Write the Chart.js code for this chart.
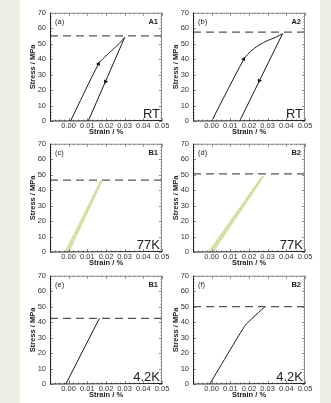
<!DOCTYPE html>
<html>
<head>
<meta charset="utf-8">
<script src="https://cdn.jsdelivr.net/npm/chart.js@4.4.1/dist/chart.umd.min.js"></script>
<style>
    html, body { margin: 0; padding: 0; background: #edf0e3; }
    #sheet { position: absolute; left: 20px; top: 0; width: 300px; height: 403px; background: #fff; }
    .panel { position: absolute; }
</style>
</head>
<body>
<div id="sheet"></div>
<script>
// tick labels
var strainTicks = [0, 0.01, 0.02, 0.03, 0.04, 0.05];
var stressTicks = [0, 10, 20, 30, 40, 50, 60, 70];

// panel texts
var panelLetters = ["(a)", "(b)", "(c)", "(d)", "(e)", "(f)"];
var sampleNames = ["A1", "A2", "B1", "B2", "B1", "B2"];
var temperatures = ["RT", "RT", "77K", "77K", "4.2K", "4.2K"];
var limitStress = [55, 57.5, 46.5, 50.5, 42.5, 50];

// (a) A1, RT
var a1LoadStrain = [0.001, 0.016, 0.019, 0.023, 0.027, 0.030];
var a1LoadStress = [0, 37, 41, 45.5, 50, 54];
var a1UnloadStrain = [0.030, 0.0105];
var a1UnloadStress = [54, 0];
var a1ArrowStrain = [0.016, 0.0197];
var a1ArrowStress = [37, 25.5];

// (b) A2, RT
var a2LoadStrain = [0.000, 0.017, 0.020, 0.024, 0.029, 0.034, 0.038];
var a2LoadStress = [0, 39.5, 44, 48, 51.5, 54, 56.5];
var a2UnloadStrain = [0.038, 0.015];
var a2UnloadStress = [56.5, 0];
var a2ArrowStrain = [0.0172, 0.0255];
var a2ArrowStress = [40, 26];

// (c) B1, 77K
var b1c77Strain = [-0.0015, 0.0175, -0.0003];
var b1c77Stress = [0, 46, 0];

// (d) B2, 77K
var b2c77Strain = [-0.0012, 0.0275, 0.0003];
var b2c77Stress = [0, 49, 0];

// (e) B1, 4.2K
var b1c4Strain = [-0.0015, 0.0165];
var b1c4Stress = [0, 42.5];

// (f) B2, 4.2K
var b2c4Strain = [-0.001, 0.018, 0.0285];
var b2c4Stress = [0, 38, 50];

function pts(xs, ys) {
    return xs.map(function (x, i) { return { x: x, y: ys[i] }; });
}

function curve(xs, ys, color, width, tension, dash) {
    return {
        data: pts(xs, ys),
        showLine: true,
        borderColor: color,
        borderWidth: width,
        borderDash: dash || [],
        pointRadius: 0,
        tension: tension || 0,
    };
}

function arrows(xs, ys) {
    return {
        data: pts(xs, ys),
        showLine: false,
        pointStyle: "triangle",
        pointRadius: 2.6,
        rotation: [26, 206],
        backgroundColor: "#111",
        borderColor: "#111",
        borderWidth: 0,
    };
}

function limitLine(v) {
    return {
        data: [{ x: -0.01, y: v }, { x: 0.05, y: v }],
        showLine: true,
        borderColor: "#555",
        borderWidth: 1.2,
        borderDash: [8, 5],
        pointRadius: 0,
    };
}

var paleGreen = "rgba(200, 216, 140, 0.7)";
var paleGreenDark = "rgba(175, 196, 100, 0.6)";

var panelData = [
    [curve(a1LoadStrain, a1LoadStress, "#1a1a1a", 1, 0.25), curve(a1UnloadStrain, a1UnloadStress, "#1a1a1a", 1), arrows(a1ArrowStrain, a1ArrowStress)],
    [curve(a2LoadStrain, a2LoadStress, "#1a1a1a", 1, 0.25), curve(a2UnloadStrain, a2UnloadStress, "#1a1a1a", 1), arrows(a2ArrowStrain, a2ArrowStress)],
    [curve(b1c77Strain, b1c77Stress, paleGreen, 2.6), curve(b1c77Strain, b1c77Stress, paleGreenDark, 1, 0, [2, 2])],
    [curve(b2c77Strain, b2c77Stress, paleGreen, 2.6), curve(b2c77Strain, b2c77Stress, paleGreenDark, 1, 0, [2, 2])],
    [curve(b1c4Strain, b1c4Stress, "#1a1a1a", 1)],
    [curve(b2c4Strain, b2c4Stress, "#1a1a1a", 1, 0.1)],
];

// chart areas in page pixels: left, top
var colLeft = [50, 193];
var rowTop = [11, 142, 274];
var areaW = 112, areaH = 110;
var yAxisW = 21, padTop = 6, xAxisH = 15, padRight = 12;

// frame, minor ticks and panel labels
var framePlugin = {
    id: "frame",
    afterDatasetsDraw: function (chart, args, opts) {
        var ctx = chart.ctx;
        var a = chart.chartArea;
        var xs = chart.scales.x, ys = chart.scales.y;
        ctx.save();
        ctx.lineWidth = 1;
        ctx.strokeStyle = "#8a8a8a";
        ctx.beginPath();
        ctx.moveTo(a.left, a.top + 0.5);
        ctx.lineTo(a.right, a.top + 0.5);
        ctx.moveTo(a.right - 0.5, a.top);
        ctx.lineTo(a.right - 0.5, a.bottom);
        var v, px, len;
        for (v = -0.01; v <= 0.05001; v += 0.0025) {
            px = Math.round(xs.getPixelForValue(v)) + 0.5;
            len = Math.abs(v * 100 - Math.round(v * 100)) < 1e-6 ? 3 : 1.5;
            ctx.moveTo(px, a.top);
            ctx.lineTo(px, a.top + len);
            ctx.moveTo(px, a.bottom);
            ctx.lineTo(px, a.bottom - len);
        }
        for (v = 0; v <= 70; v += 2) {
            px = Math.round(ys.getPixelForValue(v)) + 0.5;
            len = v % 10 === 0 ? 3 : 1.5;
            ctx.moveTo(a.left, px);
            ctx.lineTo(a.left + len, px);
            ctx.moveTo(a.right, px);
            ctx.lineTo(a.right - len, px);
        }
        ctx.stroke();
        ctx.strokeStyle = "#222";
        ctx.beginPath();
        ctx.moveTo(a.left + 0.5, a.top);
        ctx.lineTo(a.left + 0.5, a.bottom);
        ctx.lineTo(a.right, a.bottom - 0.5);
        ctx.stroke();

        ctx.fillStyle = "#222";
        ctx.textBaseline = "middle";
        ctx.font = "7.5px 'Liberation Sans', Arial, sans-serif";
        ctx.textAlign = "left";
        ctx.fillText(opts.letter, a.left + 5, a.top + 9.5);
        ctx.textAlign = "right";
        ctx.font = "bold 7.5px 'Liberation Sans', Arial, sans-serif";
        ctx.fillText(opts.sample, a.right - 4, a.top + 9.5);
        ctx.font = "13px 'Liberation Sans', Arial, sans-serif";
        ctx.textBaseline = "alphabetic";
        ctx.fillText(opts.temp, a.right - 2, a.bottom - 3);
        ctx.restore();
    },
};

var tickFont = { family: "'Liberation Sans', Arial, sans-serif", size: 7.5, lineHeight: 1 };

for (var i = 0; i < 6; i++) {
    var col = i % 2, row = Math.floor(i / 2);
    var box = document.createElement("div");
    box.className = "panel";
    box.style.left = (colLeft[col] - yAxisW) + "px";
    box.style.top = (rowTop[row] - padTop) + "px";
    box.style.width = (areaW + yAxisW + padRight) + "px";
    box.style.height = (areaH + padTop + xAxisH) + "px";
    var cv = document.createElement("canvas");
    box.appendChild(cv);
    document.body.appendChild(box);

    var datasets = [limitLine(limitStress[i])].concat(panelData[i]);

    new Chart(cv, {
        type: "scatter",
        data: { datasets: datasets },
        plugins: [framePlugin],
        options: {
            responsive: true,
            maintainAspectRatio: false,
            animation: false,
            events: [],
            layout: { padding: { top: padTop, right: padRight, left: 0, bottom: 0 } },
            plugins: {
                legend: { display: false },
                tooltip: { enabled: false },
                frame: { letter: panelLetters[i], sample: sampleNames[i], temp: temperatures[i] },
            },
            scales: {
                x: {
                    type: "linear",
                    min: -0.01,
                    max: 0.05,
                    afterBuildTicks: function (s) {
                        s.ticks = strainTicks.map(function (v) { return { value: v }; });
                    },
                    afterFit: function (s) { s.height = xAxisH; },
                    ticks: {
                        padding: 1,
                        maxRotation: 0,
                        autoSkip: false,
                        color: "#333",
                        font: tickFont,
                        callback: function (v) { return v.toFixed(2); },
                    },
                    grid: { display: false, drawTicks: false, tickLength: 0 },
                    border: { display: false },
                    title: {
                        display: true,
                        text: "Strain / %",
                        color: "#222",
                        font: { family: "'Liberation Sans', Arial, sans-serif", size: 7.5, weight: "bold", lineHeight: 1 },
                        padding: 0,
                    },
                },
                y: {
                    type: "linear",
                    min: 0,
                    max: 70,
                    afterBuildTicks: function (s) {
                        s.ticks = stressTicks.map(function (v) { return { value: v }; });
                    },
                    afterFit: function (s) { s.width = yAxisW; },
                    ticks: {
                        padding: 4,
                        color: "#333",
                        font: tickFont,
                    },
                    grid: { display: false, drawTicks: false, tickLength: 0 },
                    border: { display: false },
                    title: {
                        display: true,
                        text: "Stress / MPa",
                        color: "#222",
                        font: { family: "'Liberation Sans', Arial, sans-serif", size: 7.5, weight: "bold", lineHeight: 1 },
                        padding: 0,
                    },
                },
            },
        },
    });
}
</script>
</body>
</html>
